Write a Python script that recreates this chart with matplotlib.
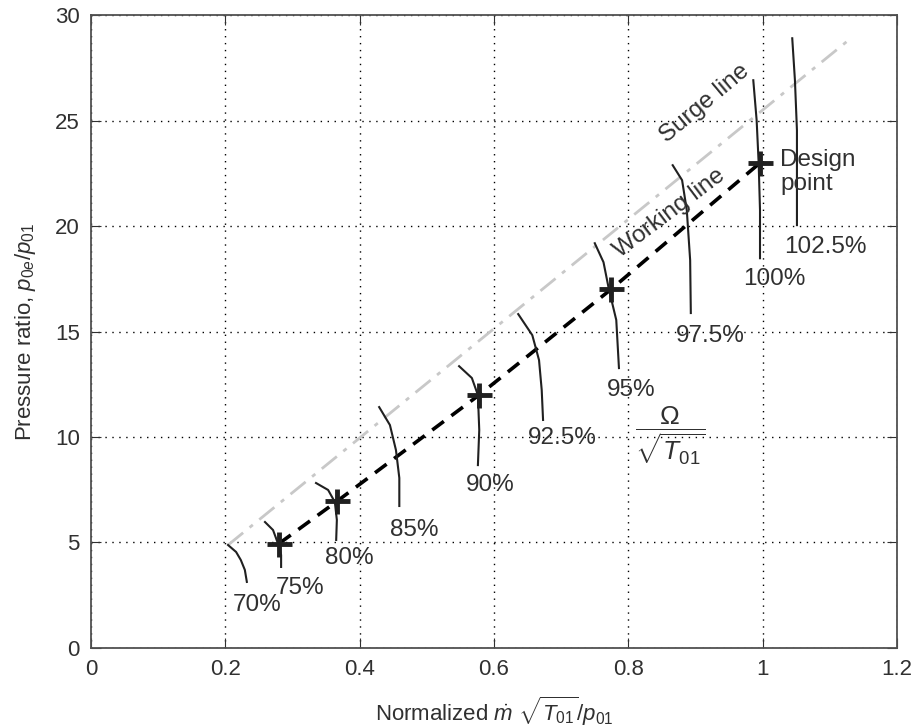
import matplotlib.pyplot as plt
import numpy as np

# Speed lines (normalized speed: x = mass flow, y = pressure ratio)
speed_labels = ["70%", "75%", "80%", "85%", "90%", "92.5%", "95%", "97.5%", "100%", "102.5%"]
speed_x = [
    [0.204, 0.216, 0.223, 0.229, 0.232],
    [0.259, 0.271, 0.278, 0.283, 0.283],
    [0.335, 0.353, 0.363, 0.366, 0.365],
    [0.429, 0.445, 0.454, 0.459, 0.459],
    [0.548, 0.567, 0.576, 0.578, 0.576],
    [0.636, 0.657, 0.667, 0.671, 0.673],
    [0.750, 0.763, 0.771, 0.782, 0.786],
    [0.866, 0.880, 0.887, 0.892, 0.893],
    [0.986, 0.991, 0.994, 0.996, 0.996],
    [1.044, 1.048, 1.051, 1.051, 1.051],
]
speed_y = [
    [4.88, 4.55, 4.17, 3.70, 3.13],
    [5.97, 5.59, 4.98, 4.41, 3.84],
    [7.82, 7.49, 6.92, 6.07, 5.12],
    [11.42, 10.57, 9.38, 8.06, 6.73],
    [13.36, 12.80, 11.99, 10.33, 8.67],
    [15.83, 14.83, 13.65, 12.23, 10.81],
    [19.19, 18.29, 17.01, 15.55, 13.27],
    [22.89, 22.18, 20.76, 18.39, 15.88],
    [26.92, 25.02, 22.99, 20.76, 18.48],
    [28.91, 26.92, 24.55, 22.18, 20.05],
]
# label positions for each speed line
label_x = [0.247, 0.311, 0.384, 0.481, 0.594, 0.701, 0.804, 0.922, 1.017, 1.093]
label_y = [2.05, 2.84, 4.27, 5.59, 7.72, 9.95, 12.23, 14.79, 17.49, 19.0]

# Working line operating points
work_x = [0.28, 0.366, 0.578, 0.774, 0.996]
work_y = [4.95, 6.95, 12.0, 17.0, 23.0]

# Surge line end points
surge_x = [0.204, 1.127]
surge_y = [4.88, 28.8]

plt.rcParams['font.family'] = ['Liberation Sans', 'DejaVu Sans']
plt.rcParams['mathtext.fontset'] = 'custom'
plt.rcParams['mathtext.rm'] = 'Liberation Sans'
plt.rcParams['mathtext.it'] = 'Liberation Sans:italic'

txt = '#303030'

fig = plt.figure(figsize=(9.13, 7.28), dpi=100)
ax = fig.add_axes([0.0997, 0.110, 0.8828, 0.869])

ax.plot(surge_x, surge_y, color='#c8c8c8', lw=2, linestyle=(0, (7, 3, 1.5, 3)))
ax.plot(work_x, work_y, color='black', lw=2.6, linestyle=(0, (4, 2.6)))
ax.plot(work_x, work_y, linestyle='none', marker='+', ms=18, mew=3.5, color='#202020')

for xs, ys, lab, lx, ly in zip(speed_x, speed_y, speed_labels, label_x, label_y):
    ax.plot(xs, ys, color='#202020', lw=1.5)
    ax.text(lx, ly, lab, fontsize=17.5, ha='center', va='center', color=txt)

ax.text(1.026, 22.56, "Design\npoint", fontsize=17.5, ha='left', va='center',
        color=txt, linespacing=1.15)
ax.text(0.914, 25.8, "Surge line", fontsize=17.5, ha='center', va='center',
        rotation=40, color=txt, rotation_mode='anchor')
ax.text(0.861, 20.6, "Working line", fontsize=17.5, ha='center', va='center',
        rotation=37, color=txt, rotation_mode='anchor')
ax.text(0.862, 10.05, r'$\dfrac{\Omega}{\sqrt{T_{01}}}$', fontsize=19, ha='center',
        va='center', color=txt)

ax.set_xlim(0, 1.2)
ax.set_ylim(0, 30)
ax.set_xticks([0, 0.2, 0.4, 0.6, 0.8, 1.0, 1.2])
ax.set_xticklabels(["0", "0.2", "0.4", "0.6", "0.8", "1", "1.2"])
ax.set_yticks([0, 5, 10, 15, 20, 25, 30])
ax.grid(True, linestyle=(0, (1, 4)), color='black', lw=1)
ax.tick_params(direction='in', length=7, top=True, right=True, labelsize=16,
               colors=txt, pad=8)
for s in ax.spines.values():
    s.set_color('#505050')
    s.set_linewidth(1.3)

ax.set_xlabel(r'Normalized $\dot{m}\ \sqrt{T_{01}}/p_{01}$', fontsize=16, color=txt,
              labelpad=10)
ax.set_ylabel(r'Pressure ratio, $p_{0e}/p_{01}$', fontsize=16, color=txt, labelpad=12)

plt.savefig("out.png", dpi=100)
